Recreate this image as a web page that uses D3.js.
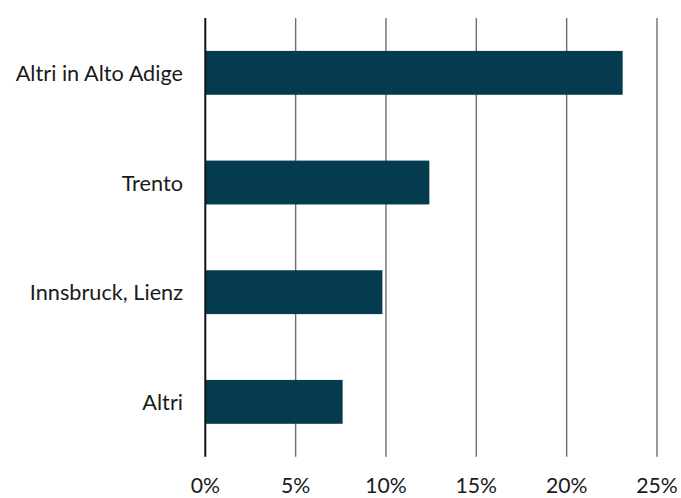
<!DOCTYPE html>
<html>
<head>
<meta charset="utf-8">
<script src="https://cdn.jsdelivr.net/npm/d3@7"></script>
<style>
  body { margin: 0; background: #fff; }
  svg text { font-family: Lato, "Noto Sans", sans-serif; fill: #1a1a1a; }
</style>
</head>
<body>
<svg width="681" height="498"></svg>
<script>
// data
var categories = ["Altri in Alto Adige", "Trento", "Innsbruck, Lienz", "Altri"];
var shares = [23.1, 12.4, 9.8, 7.6];
var tickValues = [0, 5, 10, 15, 20, 25];

var svg = d3.select('svg');

var x = d3.scaleLinear().domain([0, 25]).range([205.3, 657]);
var y = d3.scaleBand().domain(categories).range([18, 456.7])
	.paddingInner(0.6).paddingOuter(0.3);

// grid lines
svg.append('g').selectAll('line').data(tickValues.slice(1)).enter().append('line')
	.attr('x1', function(d) {return x(d)})
	.attr('x2', function(d) {return x(d)})
	.attr('y1', 18).attr('y2', 456.7)
	.attr('stroke', '#6e6e6e')
	.attr('stroke-width', 1.4);

// bars
svg.append('g').selectAll('rect').data(categories).enter().append('rect')
	.attr('x', x(0))
	.attr('y', function(d) {return y(d)})
	.attr('width', function(d, i) {return x(shares[i]) - x(0)})
	.attr('height', y.bandwidth())
	.attr('fill', '#043b4f');

// zero axis
svg.append('line')
	.attr('x1', x(0)).attr('x2', x(0))
	.attr('y1', 18).attr('y2', 456.7)
	.attr('stroke', '#111')
	.attr('stroke-width', 2);

// category labels
svg.append('g').selectAll('text').data(categories).enter().append('text')
	.attr('x', 183)
	.attr('y', function(d) {return y(d) + y.bandwidth() / 2 + 8})
	.attr('text-anchor', 'end')
	.attr('font-size', 21.7)
	.text(function(d) {return d});

// tick labels
svg.append('g').selectAll('text').data(tickValues).enter().append('text')
	.attr('x', function(d) {return x(d)})
	.attr('y', 493)
	.attr('text-anchor', 'middle')
	.attr('font-size', 21.2)
	.text(function(d) {return d + '%'});
</script>
</body>
</html>
